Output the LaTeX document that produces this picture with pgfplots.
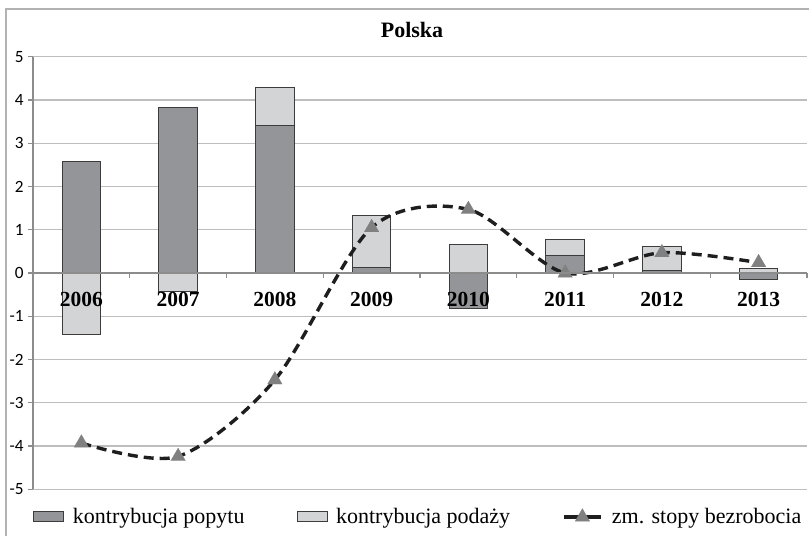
\documentclass[border=0pt]{standalone}
\usepackage{fontspec}
\setmainfont{Liberation Serif}
\newfontfamily\calibri{Carlito}
\usepackage{pgfplots}
\pgfplotsset{compat=1.18}
\definecolor{darkbar}{RGB}{148,149,152}
\definecolor{lightbar}{RGB}{211,212,214}
\definecolor{barline}{RGB}{60,60,60}
\definecolor{gridc}{RGB}{190,190,190}
\definecolor{axisc}{RGB}{140,140,140}
\definecolor{markc}{RGB}{128,128,128}
\definecolor{linec}{RGB}{30,30,30}
\pgfplotsset{
  boxlegend/.style={legend image code/.code={\path[draw=none,fill=none] (0pt,0pt) -- (19.5pt,0pt); \draw[##1] (0pt,-2.5pt) rectangle (15pt,2.5pt);}},
  linelegend/.style={legend image code/.code={\path[draw=none,fill=none] (0pt,0pt) -- (24pt,0pt); \draw[mark repeat=2, mark phase=2, ##1, solid] plot coordinates {(0pt,0pt) (9.25pt,0pt) (18.5pt,0pt)};}},
  common/.style={
    scale only axis, width=387pt, height=216.3pt,
    xmin=-0.5, xmax=7.5, ymin=-5, ymax=5,
    tick align=outside, major tick length=2.5pt,
    tick style={axisc, line width=0.6pt},
    axis line style={axisc, line width=0.6pt},
  },
}
\begin{document}
\begin{tikzpicture}
\begin{axis}[
  common,
  axis x line*=middle, axis y line*=left,
  xtick={-0.5,0.5,...,7.5},
  xticklabels={},
  ytick={-5,-4,...,5},
  yticklabels={-5,-4,-3,-2,-1,0,1,2,3,4,5},
  ymajorgrids, grid style={gridc, line width=0.6pt},
  yticklabel style={font=\calibri\fontsize{8.6}{10}\selectfont, inner sep=0pt, xshift=-2pt},
  legend columns=3,
  legend style={at={(0,-0.064)}, anchor=west, draw=none, fill=none, inner sep=0pt,
    font=\fontsize{11}{13}\selectfont,
    /tikz/every even column/.append style={column sep=26pt},
    nodes={inner sep=0pt}},
]
\addlegendimage{boxlegend, fill=darkbar, draw=barline, line width=0.5pt}
\addlegendentry{kontrybucja popytu}
\addlegendimage{boxlegend, fill=lightbar, draw=barline, line width=0.5pt}
\addlegendentry{kontrybucja podaży}
\addlegendimage{linelegend, linec, line width=1.7pt, mark=triangle*, mark size=4.2pt, mark options={solid, fill=markc, draw=markc, line width=0.1pt}}
\addlegendentry{zm. stopy bezrobocia}

\addplot[ybar, bar width=0.4, bar shift=0pt, fill=lightbar, draw=barline, line width=0.5pt, forget plot]
  coordinates {(0,-1.42) (1,-0.43) (2,4.29) (3,1.33) (4,0.67) (5,0.77) (6,0.61) (7,0.11)};
\addplot[ybar, bar width=0.4, bar shift=0pt, fill=darkbar, draw=barline, line width=0.5pt, forget plot]
  coordinates {(0,2.57) (1,3.83) (2,3.41) (3,0.13) (4,-0.81) (5,0.40) (6,0.05) (7,-0.15)};
\addplot[linec, line width=1.7pt, dash pattern=on 5pt off 3pt, smooth, mark=triangle*, mark size=4.2pt,
  mark options={solid, fill=markc, draw=markc, line width=0.1pt}, forget plot]
  coordinates {(0,-3.93) (1,-4.24) (2,-2.47) (3,1.05) (4,1.47) (5,0.00) (6,0.47) (7,0.24)};
\end{axis}
% overlay axis: category labels drawn on top of the bars
\begin{axis}[
  common,
  axis x line*=middle, axis y line=none,
  xtick={-0.5,0.5,...,7.5},
  xticklabels={2006,2007,2008,2009,2010,2011,2012,2013},
  x tick label as interval,
  ytick=\empty,
  xticklabel style={font=\bfseries\fontsize{10.75}{12}\selectfont, inner sep=0pt, anchor=north, yshift=-7pt},
]
\end{axis}
\node[font=\bfseries\fontsize{11}{13}\selectfont] at (189.5pt,229.65pt) {Polska};
\draw[gray!60, line width=0.8pt] (-13.5pt,-23.35pt) -- (-13.5pt,240.15pt) -- (388pt,240.15pt);
\pgfresetboundingbox
\useasboundingbox (-16.5pt,-23.35pt) rectangle (388pt,244.65pt);
\end{tikzpicture}
\end{document}
